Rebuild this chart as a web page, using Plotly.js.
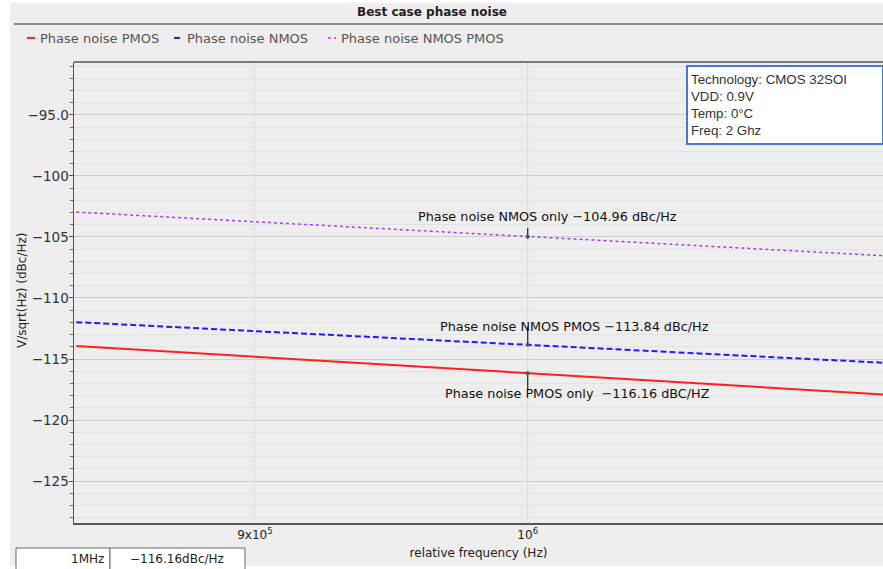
<!DOCTYPE html>
<html>
<head>
<meta charset="utf-8">
<script src="https://cdn.plot.ly/plotly-3.0.1.min.js"></script>
<style>html,body{margin:0;padding:0;background:#ffffff;overflow:hidden}</style>
</head>
<body>
<div id="chart" style="width:883px;height:569px"></div>
<script>
// ---- data ----
const freqHz = [840000, 900000, 1000000, 1100000, 1150000];
const pmosNoise = [-113.94, -114.82, -116.16, -117.37, -117.94];      // red
const nmosNoise = [-111.98, -112.71, -113.84, -114.86, -115.33];      // blue
const nmosPmosNoise = [-102.96, -103.75, -104.96, -106.05, -106.56];  // purple
const seriesNames = ["Phase noise PMOS", "Phase noise NMOS", "Phase noise NMOS PMOS"];

const cursorFreq = 1000000;
const cursorValues = [-104.96, -113.84, -116.16];
const cursorTexts = ["Phase noise NMOS only \u2212104.96 dBc/Hz",
                     "Phase noise NMOS PMOS \u2212113.84 dBc/Hz",
                     "Phase noise PMOS only  \u2212116.16 dBC/HZ"];

const yTickVals = [-95, -100, -105, -110, -115, -120, -125];
const yTickText = ["\u221295.0", "\u2212100", "\u2212105", "\u2212110", "\u2212115", "\u2212120", "\u2212125"];
const xTickVals = [900000, 1000000];
const xTickText = ["9x10<sup>5</sup>", "10<sup>6</sup>"];

const yTitle = "V/sqrt(Hz) (dBc/Hz)";
const infoLines = ["Technology: CMOS 32SOI", "VDD: 0.9V", "Temp: 0\u00B0C", "Freq: 2 Ghz"];
const tableCells = ["1MHz", "\u2212116.16dBc/Hz"];

// ---- layout helpers (pixel -> paper) ----
const W = 883, H = 569, ML = 74, MR = 0, MT = 62, MB = 46;
const PW = W - ML - MR, PH = H - MT - MB;
const px = v => (v - ML) / PW;
const py = v => (H - MB - v) / PH;

const font = "DejaVu Sans, sans-serif";

const traces = [
  {x: freqHz, y: pmosNoise, name: seriesNames[0], mode: "lines", type: "scatter", legend: "legend",
   line: {color: "#ff1f1f", width: 2}},
  {x: freqHz, y: nmosNoise, name: seriesNames[1], mode: "lines", type: "scatter", legend: "legend2",
   line: {color: "#1c1cff", width: 2, dash: "6px,3px"}},
  {x: freqHz, y: nmosPmosNoise, name: seriesNames[2], mode: "lines", type: "scatter", legend: "legend3",
   line: {color: "#a040ee", width: 1.5, dash: "dot"}},
  {x: cursorValues.map(() => cursorFreq), y: cursorValues, mode: "markers", type: "scatter",
   showlegend: false, hoverinfo: "skip",
   marker: {color: "#555", size: 4},
   error_y: {type: "data", symmetric: false, array: [0.7, 1.5, 0], arrayminus: [0.2, 0, 1.4],
             color: "#333", thickness: 1.3, width: 0}}
];

const annotations = [];
const shifts = [[20, 20], [47, 18], [50, -20]];
cursorValues.forEach((v, i) => {
  annotations.push({x: Math.log10(cursorFreq), y: v, xref: "x", yref: "y", text: cursorTexts[i],
    showarrow: false, xshift: shifts[i][0], yshift: shifts[i][1],
    font: {family: font, size: 12.8, color: "#111"}});
});
annotations.push({xref: "paper", yref: "paper", x: px(686), y: py(65), xanchor: "left", yanchor: "top",
  text: infoLines.join("<br>"), align: "left", showarrow: false,
  bgcolor: "#ffffff", bordercolor: "#4a78c8", borderwidth: 2, borderpad: 3, width: 188, height: 70,
  font: {family: "Liberation Sans, Arial, sans-serif", size: 13.3, color: "#333"}});
annotations.push({xref: "paper", yref: "paper", x: px(106), y: py(559), xanchor: "right", yanchor: "middle",
  text: tableCells[0], showarrow: false, font: {family: font, size: 12, color: "#222"}});
annotations.push({xref: "paper", yref: "paper", x: px(177), y: py(559), xanchor: "center", yanchor: "middle",
  text: tableCells[1], showarrow: false, font: {family: font, size: 12, color: "#222"}});
annotations.push({xref: "paper", yref: "paper", x: px(22), y: py(291), xanchor: "center", yanchor: "middle",
  text: yTitle, textangle: -90, showarrow: false, font: {family: font, size: 12, color: "#222"}});

const shapes = [
  {type: "rect", xref: "paper", yref: "paper", x0: px(10), x1: px(900), y0: py(566), y1: py(3),
   fillcolor: "#eeeeee", line: {width: 0}, layer: "below"},
  {type: "line", xref: "paper", yref: "paper", x0: px(14), x1: px(900), y0: py(24), y1: py(24),
   line: {color: "#8a8a8a", width: 2}},
  {type: "line", xref: "x", yref: "paper", x0: cursorFreq, x1: cursorFreq, y0: 0, y1: 1,
   line: {color: "#c4c4c4", width: 1}, layer: "below"},
  {type: "rect", xref: "paper", yref: "paper", x0: px(16), x1: px(110), y0: py(572), y1: py(548),
   fillcolor: "#ffffff", line: {color: "#666", width: 1}},
  {type: "rect", xref: "paper", yref: "paper", x0: px(110), x1: px(245), y0: py(572), y1: py(548),
   fillcolor: "#ffffff", line: {color: "#666", width: 1}},
  {type: "line", xref: "paper", yref: "paper", x0: 0, x1: 1, y0: 1, y1: 1,
   line: {color: "#555", width: 1.5}}
];

const legendBase = {orientation: "h", xref: "paper", yref: "container", y: 1 - 38 / H,
  xanchor: "left", yanchor: "middle", bgcolor: "rgba(0,0,0,0)",
  font: {family: font, size: 13, color: "#555"}, itemwidth: 30};

const layout = {
  width: W, height: H,
  margin: {l: ML, r: MR, t: MT, b: MB},
  paper_bgcolor: "#ffffff",
  plot_bgcolor: "#eeeeee",
  font: {family: font, size: 12, color: "#333"},
  title: {text: "<b>Best case phase noise</b>", xref: "container", yref: "container",
          x: 432 / W, y: 1 - 12 / H, xanchor: "center", yanchor: "middle",
          font: {family: font, size: 12, color: "#222"}},
  showlegend: true,
  legend: Object.assign({}, legendBase, {x: px(-7)}),
  legend2: Object.assign({}, legendBase, {x: px(147)}),
  legend3: Object.assign({}, legendBase, {x: px(301)}),
  xaxis: {type: "log", range: [5.9239, 6.0596], tickmode: "array", tickvals: xTickVals, ticktext: xTickText,
          showgrid: true, gridcolor: "#dcdcdc", gridwidth: 1, zeroline: false,
          showline: true, linecolor: "#555", linewidth: 1.5, mirror: false,
          ticks: "", tickfont: {family: font, size: 12, color: "#222"},
          title: {text: "relative frequency (Hz)", standoff: 7, font: {family: font, size: 12, color: "#222"}}},
  yaxis: {range: [-128.44, -90.66], tickmode: "array", tickvals: yTickVals, ticktext: yTickText,
          showgrid: true, gridcolor: "#cfcfcf", gridwidth: 1, zeroline: false,
          showline: true, linecolor: "#555", linewidth: 1.5,
          ticks: "outside", ticklen: 4, tickcolor: "#555", ticklabelstandoff: -3,
          tickfont: {family: font, size: 13.5, color: "#333"},
          minor: {tickmode: "linear", tick0: 0, dtick: 1, ticks: "outside", ticklen: 3, tickcolor: "#666",
                  showgrid: true, gridcolor: "#e2e2e2", gridwidth: 1}},
  annotations: annotations,
  shapes: shapes
};

Plotly.newPlot("chart", traces, layout, {displayModeBar: false, staticPlot: true}).then(gd => {
  // shorten the legend line samples to small dashes like the reference
  gd.querySelectorAll(".infolayer path.js-line").forEach(p => p.setAttribute("d", "M27,0h8"));
});
</script>
</body>
</html>
